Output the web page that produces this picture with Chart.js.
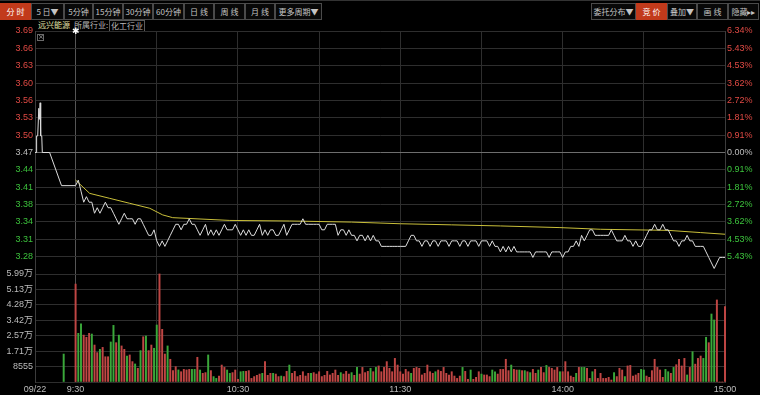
<!doctype html>
<html lang="zh">
<head>
<meta charset="utf-8">
<title>远兴能源 分时</title>
<style>
  * { margin: 0; padding: 0; box-sizing: border-box; }
  body {
    width: 760px; height: 395px; overflow: hidden; position: relative;
    background: #000; font-family: "Noto Sans CJK SC", "Liberation Sans", sans-serif;
  }
  canvas { position: absolute; left: 0; top: 0; }
  .topline { position: absolute; left: 0; top: 0; width: 760px; height: 1px; background: #333; }
  .btn {
    position: absolute; top: 3px; height: 17px;
    border: 1px solid #4a4a4a; background: #080808; color: #c4c4c4;
    font-size: 8px; line-height: 15px; text-align: center; white-space: nowrap; overflow: hidden;
  }
  .btn.on { background: #c23a1b; border-color: #c23a1b; color: #fff; }
  .info { position: absolute; top: 20px; font-size: 8px; line-height: 10px; white-space: nowrap; }
  .box { border: 1px solid #5a5a5a; padding: 0 1px; }
  .xbox {
    position: absolute; left: 37px; top: 34px; width: 7px; height: 7px;
    border: 1px solid #6a6a6a; color: #9a9a9a; font: 7px/5px "DejaVu Sans"; text-align: center;
  }
  .star { position: absolute; left: 72px; top: 26px; color: #fff; font-size: 9px; font-family: "DejaVu Sans"; }
</style>
</head>
<body>
  <div class="topline"></div>
  <div class="btn on" style="left:0;width:31px">分 时</div>
  <div class="btn" style="left:31px;width:33px">5 日▼</div>
  <div class="btn" style="left:64px;width:29px">5分钟</div>
  <div class="btn" style="left:93px;width:30px">15分钟</div>
  <div class="btn" style="left:123px;width:30px">30分钟</div>
  <div class="btn" style="left:153px;width:31px">60分钟</div>
  <div class="btn" style="left:184px;width:30px">日 线</div>
  <div class="btn" style="left:214px;width:31px">周 线</div>
  <div class="btn" style="left:245px;width:30px">月 线</div>
  <div class="btn" style="left:275px;width:47px">更多周期▼</div>

  <div class="btn" style="left:591px;width:45px">委托分布▼</div>
  <div class="btn on" style="left:636px;width:31px">竞 价</div>
  <div class="btn" style="left:667px;width:30px">叠加▼</div>
  <div class="btn" style="left:697px;width:31px">画 线</div>
  <div class="btn" style="left:728px;width:31px">隐藏▸▸</div>

  <div class="info" style="left:38px;color:#e4e4a8">远兴能源</div>
  <div class="info" style="left:74px;color:#b8b8b8">所属行业:</div>
  <div class="info box" style="left:109px;color:#b8b8b8">化工行业</div>

  <canvas id="priceChart" width="760" height="395"></canvas>
  <canvas id="volChart" width="760" height="395"></canvas>

  <div class="xbox">×</div>
  <div class="star">✱</div>

  <script src="https://cdn.jsdelivr.net/npm/chart.js"></script>
  <script>
    // data
    const prevClose = 3.47;
    const priceHigh = 3.69;
    const priceLow = 3.25;

    // call auction (minutes before 9:30 are negative)
    const auctionMin = [-15, -14.5, -14.4, -14.0, -13.6, -13.4, -13.1, -12.9, -12.5, -12.3, -9.6, -5.2];
    const auctionPrice = [3.47, 3.47, 3.50, 3.50, 3.55, 3.53, 3.56, 3.50, 3.50, 3.47, 3.47, 3.41];

    // one price per trading minute, 9:30 .. 15:00
    const priceTrade = [
      3.41,3.42,3.40,3.38,3.39,3.38,3.38,3.36,3.37,3.36,
      3.37,3.38,3.37,3.37,3.36,3.35,3.34,3.35,3.36,3.35,
      3.35,3.35,3.34,3.35,3.35,3.34,3.33,3.32,3.32,3.33,
      3.31,3.30,3.31,3.30,3.31,3.32,3.33,3.34,3.34,3.33,
      3.34,3.34,3.35,3.34,3.34,3.33,3.32,3.33,3.34,3.32,
      3.33,3.32,3.33,3.32,3.33,3.34,3.33,3.33,3.33,3.34,
      3.33,3.32,3.33,3.32,3.33,3.32,3.32,3.33,3.34,3.32,
      3.33,3.32,3.33,3.33,3.32,3.32,3.33,3.34,3.32,3.33,
      3.34,3.34,3.34,3.34,3.35,3.34,3.34,3.34,3.34,3.34,
      3.34,3.33,3.33,3.34,3.34,3.34,3.34,3.32,3.33,3.33,
      3.32,3.33,3.32,3.32,3.31,3.32,3.32,3.31,3.32,3.31,
      3.32,3.31,3.31,3.30,3.30,3.30,3.30,3.30,3.30,3.30,
      3.30,3.30,3.30,3.31,3.32,3.32,3.31,3.31,3.30,3.31,
      3.31,3.30,3.31,3.31,3.30,3.31,3.31,3.31,3.30,3.31,
      3.31,3.31,3.30,3.31,3.31,3.30,3.31,3.31,3.31,3.30,
      3.31,3.31,3.31,3.30,3.31,3.30,3.30,3.29,3.30,3.29,
      3.30,3.29,3.30,3.29,3.29,3.29,3.29,3.29,3.29,3.28,
      3.29,3.29,3.29,3.29,3.29,3.28,3.29,3.29,3.29,3.29,
      3.28,3.29,3.29,3.30,3.30,3.31,3.30,3.32,3.31,3.32,
      3.33,3.33,3.32,3.32,3.32,3.32,3.32,3.32,3.33,3.32,
      3.31,3.31,3.31,3.32,3.31,3.31,3.30,3.31,3.30,3.30,
      3.31,3.32,3.33,3.33,3.34,3.33,3.33,3.34,3.33,3.33,
      3.32,3.31,3.31,3.30,3.31,3.31,3.32,3.31,3.31,3.30,
      3.30,3.30,3.30,3.29,3.28,3.27,3.26,3.27,3.28,3.28,
      3.28
    ];

    // average price line
    const avgMin = [0, 5.2, 12.6, 20, 27.4, 32.2, 35.9, 57, 79, 102, 120, 139, 157, 179, 194, 206, 219, 231, 240];
    const avgPrice = [3.42, 3.396, 3.387, 3.378, 3.369, 3.357, 3.352, 3.347, 3.346, 3.344, 3.341, 3.339, 3.337, 3.334, 3.331, 3.330, 3.329, 3.325, 3.322];

    // volume per trading minute, and whether the minute closed up (1) or down (0)
    const volTrade = [
      54300,27000,32200,26000,24800,27000,26600,20500,16300,18100,
      19200,14000,14000,22200,31400,21800,26000,20000,18100,14400,
      15000,11300,10000,7600,17400,25100,25500,17400,20500,18700,
      31600,59900,29200,15500,20000,12600,6300,8500,6700,5700,
      7000,6700,7000,7000,7000,13700,6650,4800,5200,15000,
      6300,3000,2000,3300,9400,8100,6650,4800,5200,6650,
      1500,5700,5900,5900,6300,2000,3000,3700,4400,4800,
      11300,3700,4800,4800,4400,3000,3300,3000,5900,9400,
      4800,5900,3000,3700,5700,3300,4800,4800,5200,4400,
      5700,3000,3700,5900,3900,4800,6650,3700,5200,4400,
      5900,4400,5200,3700,8100,4400,8100,5200,5900,7600,
      5700,8100,8900,5700,8100,11300,7600,5700,13100,9400,
      5700,4400,7000,5700,4800,7600,8100,7600,3900,4800,
      9400,5700,4800,5700,6650,5900,8100,4800,3900,5700,
      3300,2000,3300,8100,5900,1500,6650,1500,2600,5700,
      4400,3900,3900,3000,6650,5700,4400,7000,7000,12600,
      6300,9400,7000,6650,6650,6300,6300,5700,5200,7000,
      4800,6650,8100,5200,9200,8100,7600,6650,8100,5700,
      5700,11300,5700,3300,2600,4800,8100,8100,8100,7600,
      2000,5700,7000,2000,4800,2000,2000,2600,1100,5200,
      3000,7600,6650,3000,8900,9200,3300,3900,4800,7000,
      6650,3300,2600,6300,12600,8100,6650,2600,7000,5700,
      4800,8100,9600,12600,8900,13100,3900,8100,16800,9900,
      13100,14400,13100,24800,21800,37700,34400,45500,0,0,
      41800
    ];
    const volUp = [
      1,0,0,1,1,1,0,1,1,0,
      1,1,1,0,0,1,0,1,1,0,
      1,1,0,1,0,1,0,1,1,0,
      0,1,1,1,0,1,1,1,0,1,
      1,1,1,0,0,1,0,1,1,0,
      1,0,0,1,1,1,0,0,1,1,
      1,0,0,1,1,1,1,1,1,0,
      1,1,1,0,1,1,0,1,1,0,
      1,1,1,1,1,1,1,0,1,1,
      1,1,1,1,1,1,1,1,0,1,
      1,1,0,1,0,1,1,1,1,0,
      1,0,1,1,1,1,1,1,1,1,
      1,1,1,1,0,1,1,1,1,1,
      1,1,1,0,1,1,1,1,1,1,
      1,1,1,0,1,1,0,1,1,1,
      0,1,1,1,0,0,1,1,1,1,
      1,0,1,1,0,1,0,1,0,1,
      1,0,1,1,0,1,1,1,1,0,
      1,1,1,1,1,0,1,0,0,1,
      1,0,1,1,1,1,1,1,1,0,
      1,1,1,0,1,1,1,1,1,0,
      0,1,1,1,1,1,1,1,0,0,
      1,0,1,1,1,1,0,1,0,1,
      1,1,0,0,1,0,0,1,1,1,
      1
    ];
    const auctionVolMin = -4.4;
    const auctionVol = 15500;

    const priceLabels = ['3.69','3.66','3.63','3.60','3.56','3.53','3.50','3.47','3.44','3.41','3.38','3.34','3.31','3.28',''];
    const pctLabels = ['6.34%','5.43%','4.53%','3.62%','2.72%','1.81%','0.91%','0.00%','0.91%','1.81%','2.72%','3.62%','4.53%','5.43%',''];
    const volMax = 59885;
    const volLabels = ['5.99万','5.13万','4.28万','3.42万','2.57万','1.71万','8555',''];
    const gridMinutes = [-15, 0, 30, 60, 90, 120, 150, 180, 210, 240];
    const timeLabels = { '-15': '09/22', '0': '9:30', '60': '10:30', '120': '11:30', '180': '14:00', '240': '15:00' };

    // colours
    const RED = '#e04a44';
    const GREEN = '#3cc23c';
    const GRAY = '#bcbcbc';
    const GRID = '#2e2e2e';
    const AXIS = '#3c3c3c';
    const FONT = { family: 'Liberation Sans, Noto Sans CJK SC, sans-serif', size: 9 };

    const priceStep = (priceHigh - priceLow) / (priceLabels.length - 1);
    const volStep = volMax / (volLabels.length - 1);

    function labelColor(c) {
      const mid = (priceLabels.length - 1) / 2;
      return c.index < mid ? RED : (c.index === mid ? GRAY : GREEN);
    }
    function timeGrid(c) {
      return c.tick && c.tick.value === 0 ? '#555' : GRID;
    }
    function timeTicks(scale) {
      scale.ticks = gridMinutes.map(v => ({ value: v }));
    }

    // price panel
    const priceLine = auctionMin.map((m, i) => ({ x: m, y: auctionPrice[i] }))
      .concat(priceTrade.map((p, i) => ({ x: i, y: p })));
    const avgLine = avgMin.map((m, i) => ({ x: m, y: avgPrice[i] }));

    new Chart(document.getElementById('priceChart'), {
      type: 'line',
      data: {
        datasets: [
          { data: priceLine, borderColor: '#dcdcdc', borderWidth: 1, pointRadius: 0, tension: 0 },
          { data: avgLine, borderColor: '#c9bf3a', borderWidth: 1, pointRadius: 0, tension: 0 }
        ]
      },
      options: {
        responsive: false,
        animation: false,
        events: [],
        layout: { padding: { top: 31, bottom: 121, left: 0, right: 0 } },
        plugins: { legend: { display: false }, tooltip: { enabled: false } },
        scales: {
          x: {
            type: 'linear', min: -15, max: 240,
            afterBuildTicks: timeTicks,
            afterFit: s => { s.height = 0; },
            ticks: { display: false },
            grid: { color: timeGrid, drawTicks: false },
            border: { display: false }
          },
          y: {
            position: 'left', min: priceLow, max: priceHigh,
            afterBuildTicks: s => { s.ticks = priceLabels.map((_, k) => ({ value: priceHigh - k * priceStep })); },
            afterFit: s => { s.width = 35; },
            ticks: { font: FONT, padding: 2, color: labelColor, callback: (v, i) => priceLabels[i] },
            grid: {
              drawTicks: false,
              color: c => (c.index === (priceLabels.length - 1) / 2 ? '#6e6e6e' : GRID)
            },
            border: { color: AXIS }
          },
          yr: {
            position: 'right', min: priceLow, max: priceHigh,
            afterBuildTicks: s => { s.ticks = pctLabels.map((_, k) => ({ value: priceHigh - k * priceStep })); },
            afterFit: s => { s.width = 35; },
            ticks: { font: FONT, padding: 2, color: labelColor, callback: (v, i) => pctLabels[i] },
            grid: { drawOnChartArea: false, drawTicks: false },
            border: { color: AXIS }
          }
        }
      }
    });

    // volume panel
    const volBars = [{ x: auctionVolMin, y: auctionVol }].concat(volTrade.map((v, i) => ({ x: i, y: v })));
    const volColors = ['#3aa83a'].concat(volUp.map(u => (u ? '#c04644' : '#3aa83a')));

    new Chart(document.getElementById('volChart'), {
      type: 'bar',
      data: {
        datasets: [{ data: volBars, backgroundColor: volColors, barThickness: 1.3, clip: 3 }]
      },
      options: {
        responsive: false,
        animation: false,
        events: [],
        layout: { padding: { top: 274, bottom: 0, left: 0, right: 0 } },
        plugins: { legend: { display: false }, tooltip: { enabled: false } },
        scales: {
          x: {
            type: 'linear', min: -15, max: 240, offset: false,
            afterBuildTicks: timeTicks,
            afterFit: s => { s.height = 13; },
            ticks: {
              font: FONT, color: GRAY, padding: 2, autoSkip: false, maxRotation: 0,
              callback: v => timeLabels[String(v)] || ''
            },
            grid: { color: timeGrid, drawTicks: false, offset: false },
            border: { display: false }
          },
          y: {
            position: 'left', min: 0, max: volMax,
            afterBuildTicks: s => { s.ticks = volLabels.map((_, k) => ({ value: volMax - k * volStep })); },
            afterFit: s => { s.width = 35; },
            ticks: { font: FONT, padding: 2, color: GRAY, callback: (v, i) => volLabels[i] },
            grid: { drawTicks: false, color: GRID },
            border: { color: AXIS }
          },
          yr: {
            position: 'right', min: 0, max: 1,
            afterFit: s => { s.width = 35; },
            ticks: { display: false },
            grid: { drawOnChartArea: false, drawTicks: false },
            border: { color: AXIS }
          }
        }
      }
    });
  </script>
</body>
</html>
